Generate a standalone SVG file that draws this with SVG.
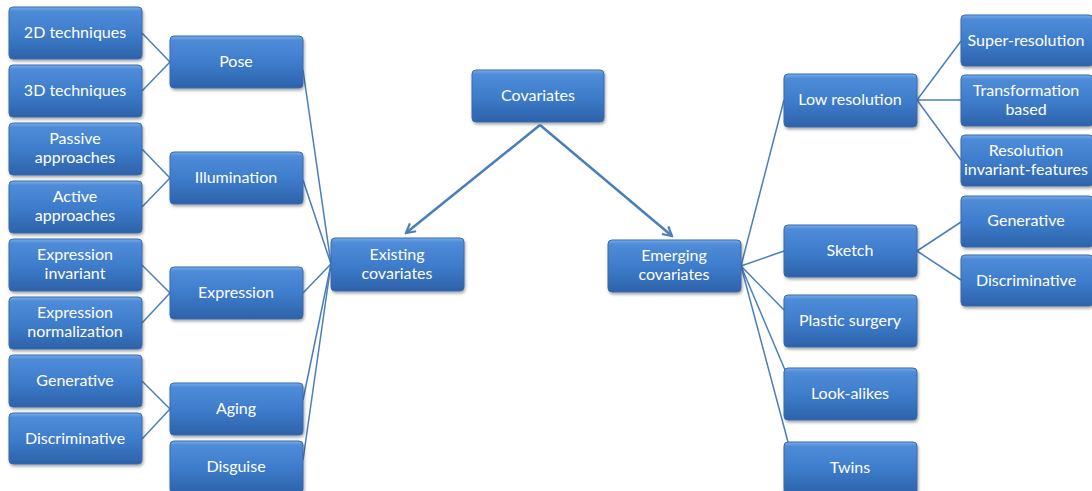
<svg xmlns="http://www.w3.org/2000/svg" width="1092" height="491" viewBox="0 0 1092 491">
<defs>
<linearGradient id="g" x1="0" y1="0" x2="0" y2="1">
<stop offset="0" stop-color="#7aaee8"/>
<stop offset="0.08" stop-color="#4f8cd8"/>
<stop offset="0.5" stop-color="#3e7dcc"/>
<stop offset="1" stop-color="#2d62aa"/>
</linearGradient>
<filter id="sh" x="-10%" y="-10%" width="125%" height="130%">
<feDropShadow dx="1" dy="2" stdDeviation="1.5" flood-color="#000" flood-opacity="0.35"/>
</filter>
<marker id="ah" viewBox="0 0 12 12" refX="10" refY="6" markerWidth="12" markerHeight="12" markerUnits="userSpaceOnUse" orient="auto">
<path d="M1,1 L10,6 L1,11" fill="none" stroke="#4a7ebb" stroke-width="2.2"/>
</marker>
</defs>
<style>
rect.b{fill:url(#g);stroke:#3a6aaa;stroke-width:1;filter:url(#sh)}
text{font-family:Lato,"Open Sans","Liberation Sans",sans-serif;font-size:16px;fill:#fff;text-anchor:middle}
.c line{stroke:#4a7ebb;stroke-width:1.5;fill:none}
.c line.a{stroke-width:2.5;marker-end:url(#ah)}
</style>
<rect width="1092" height="491" fill="#fff"/>
<g class="c" id="connectors">
<line class="a" x1="540" y1="125" x2="406" y2="233"/>
<line class="a" x1="540" y1="125" x2="672" y2="236"/>
<line x1="142" y1="33" x2="170" y2="62"/>
<line x1="142" y1="91" x2="170" y2="62"/>
<line x1="142" y1="149" x2="170" y2="178"/>
<line x1="142" y1="207" x2="170" y2="178"/>
<line x1="142" y1="265" x2="170" y2="293"/>
<line x1="142" y1="323" x2="170" y2="293"/>
<line x1="142" y1="381" x2="170" y2="409"/>
<line x1="142" y1="439" x2="170" y2="409"/>
<line x1="303" y1="70" x2="331" y2="264"/>
<line x1="303" y1="180" x2="331" y2="264"/>
<line x1="303" y1="293" x2="331" y2="264"/>
<line x1="303" y1="400" x2="331" y2="264"/>
<line x1="303" y1="460" x2="331" y2="264"/>
<line x1="741" y1="266" x2="784" y2="100"/>
<line x1="741" y1="266" x2="784" y2="251"/>
<line x1="741" y1="266" x2="784" y2="310"/>
<line x1="741" y1="266" x2="785" y2="370"/>
<line x1="741" y1="266" x2="788" y2="442"/>
<line x1="917" y1="100" x2="961" y2="41"/>
<line x1="917" y1="100" x2="961" y2="100"/>
<line x1="917" y1="100" x2="961" y2="160"/>
<line x1="917" y1="251" x2="961" y2="222"/>
<line x1="917" y1="251" x2="961" y2="280"/>
</g>
<g id="covariates"><rect class="b" x="472" y="70" width="132" height="52" rx="4"/><text x="538" y="101">Covariates</text></g>
<g id="existing"><rect class="b" x="331" y="238" width="133" height="53" rx="4"/><text x="397" y="260">Existing</text><text x="397" y="279">covariates</text></g>
<g id="emerging"><rect class="b" x="608" y="240" width="133" height="52" rx="4"/><text x="674" y="261">Emerging</text><text x="674" y="280">covariates</text></g>
<g id="pose"><rect class="b" x="170" y="36" width="133" height="52" rx="4"/><text x="236" y="67">Pose</text></g>
<g id="illumination"><rect class="b" x="170" y="152" width="133" height="52" rx="4"/><text x="236" y="183">Illumination</text></g>
<g id="expression"><rect class="b" x="170" y="267" width="133" height="52" rx="4"/><text x="236" y="298">Expression</text></g>
<g id="aging"><rect class="b" x="170" y="383" width="133" height="52" rx="4"/><text x="236" y="414">Aging</text></g>
<g id="disguise"><rect class="b" x="170" y="441" width="133" height="52" rx="4"/><text x="236" y="472">Disguise</text></g>
<g id="t2d"><rect class="b" x="9" y="7" width="133" height="52" rx="4"/><text x="75" y="38">2D techniques</text></g>
<g id="t3d"><rect class="b" x="9" y="65" width="133" height="52" rx="4"/><text x="75" y="96">3D techniques</text></g>
<g id="passive"><rect class="b" x="9" y="123" width="133" height="52" rx="4"/><text x="75" y="144">Passive</text><text x="75" y="163">approaches</text></g>
<g id="active"><rect class="b" x="9" y="181" width="133" height="52" rx="4"/><text x="75" y="202">Active</text><text x="75" y="221">approaches</text></g>
<g id="exinv"><rect class="b" x="9" y="239" width="133" height="52" rx="4"/><text x="75" y="260">Expression</text><text x="75" y="279">invariant</text></g>
<g id="exnorm"><rect class="b" x="9" y="297" width="133" height="52" rx="4"/><text x="75" y="318">Expression</text><text x="75" y="337">normalization</text></g>
<g id="agegen"><rect class="b" x="9" y="355" width="133" height="52" rx="4"/><text x="75" y="386">Generative</text></g>
<g id="agedisc"><rect class="b" x="9" y="413" width="133" height="51" rx="4"/><text x="75" y="444">Discriminative</text></g>
<g id="lowres"><rect class="b" x="784" y="74" width="133" height="53" rx="4"/><text x="850" y="105">Low resolution</text></g>
<g id="sketch"><rect class="b" x="784" y="225" width="133" height="52" rx="4"/><text x="850" y="256">Sketch</text></g>
<g id="plastic"><rect class="b" x="784" y="295" width="133" height="52" rx="4"/><text x="850" y="326">Plastic surgery</text></g>
<g id="lookalikes"><rect class="b" x="784" y="368" width="133" height="52" rx="4"/><text x="850" y="399">Look-alikes</text></g>
<g id="twins"><rect class="b" x="784" y="442" width="133" height="52" rx="4"/><text x="850" y="473">Twins</text></g>
<g id="superres"><rect class="b" x="961" y="15" width="132" height="51" rx="4"/><text x="1026" y="46">Super-resolution</text></g>
<g id="transform"><rect class="b" x="961" y="75" width="132" height="51" rx="4"/><text x="1026" y="96">Transformation</text><text x="1026" y="115">based</text></g>
<g id="resinv"><rect class="b" x="961" y="135" width="132" height="51" rx="4"/><text x="1026" y="156">Resolution</text><text x="1026" y="175">invariant-features</text></g>
<g id="skgen"><rect class="b" x="961" y="196" width="132" height="51" rx="4"/><text x="1026" y="226">Generative</text></g>
<g id="skdisc"><rect class="b" x="961" y="255" width="132" height="51" rx="4"/><text x="1026" y="286">Discriminative</text></g>
</svg>
